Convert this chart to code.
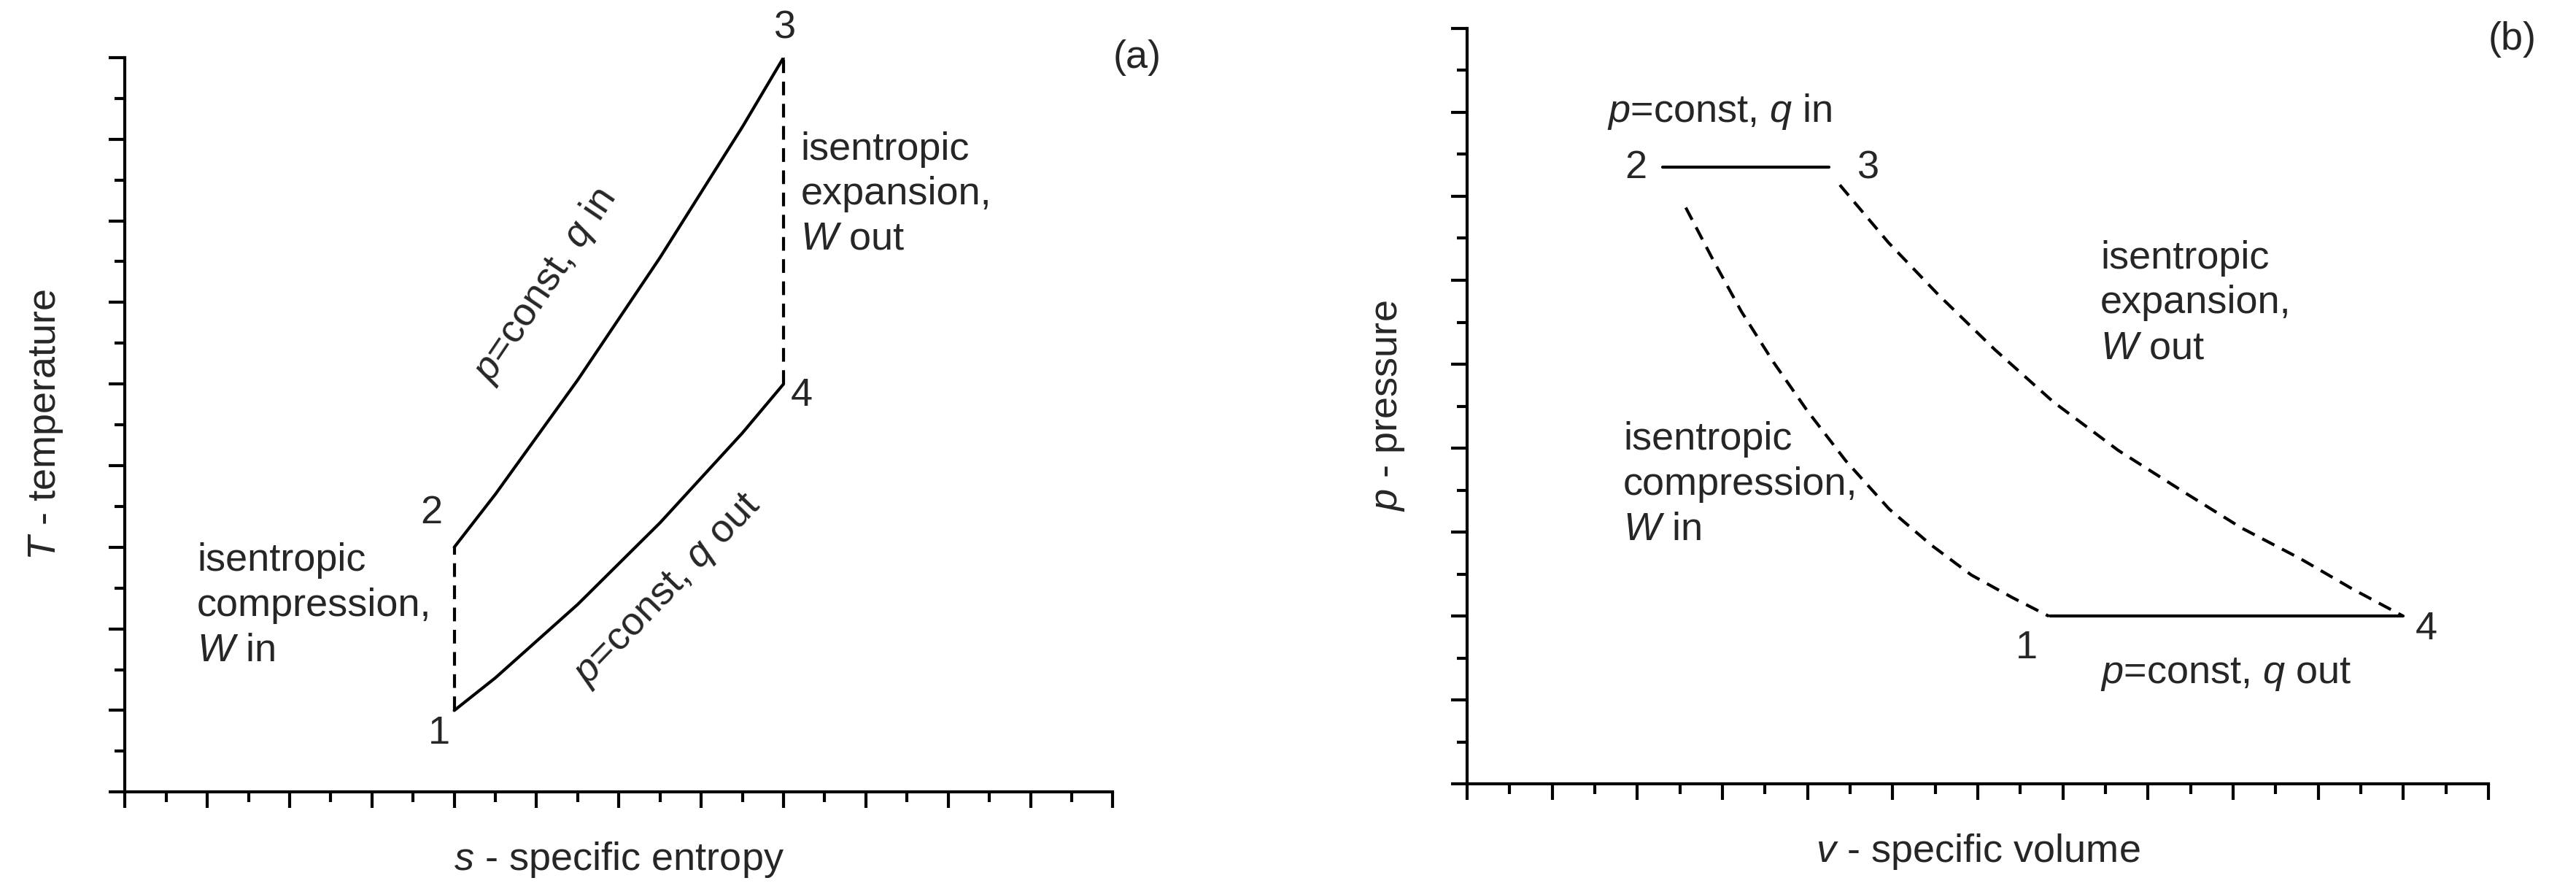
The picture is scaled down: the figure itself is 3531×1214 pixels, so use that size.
import numpy as np, pandas as pd, matplotlib
matplotlib.use("Agg")
import matplotlib.pyplot as plt, seaborn as sns

sns.set_theme(style="white")
plt.rcParams['font.family'] = ['Liberation Sans', 'DejaVu Sans']
plt.rcParams['mathtext.fontset'] = 'custom'
plt.rcParams['mathtext.rm'] = 'Liberation Sans'
plt.rcParams['mathtext.it'] = 'Liberation Sans:italic'

# Panel (a): T-s diagram
ts_heat_in_s = [8, 9, 10, 11, 12, 13, 14, 15, 16]
ts_heat_in_T = [6, 7.3, 8.7, 10.1, 11.6, 13.1, 14.7, 16.3, 18]
ts_heat_out_s = [8, 9, 10, 11, 12, 13, 14, 15, 16]
ts_heat_out_T = [2, 2.8, 3.7, 4.6, 5.6, 6.6, 7.7, 8.8, 10]
ts_comp_s = [8, 8]; ts_comp_T = [2, 6]
ts_exp_s = [16, 16]; ts_exp_T = [10, 18]

# Panel (b): p-v diagram
pv_heat_in_v = [4.6, 8.5]; pv_heat_in_p = [14.7, 14.7]
pv_heat_out_v = [13.7, 22.0]; pv_heat_out_p = [4.0, 4.0]
pv_comp_v = [5.14, 5.8, 6.45, 7.2, 7.99, 8.9, 9.92, 10.9, 11.85, 12.8, 13.67]
pv_comp_p = [13.73, 12.45, 11.25, 10.05, 8.90, 7.7, 6.55, 5.7, 4.98, 4.45, 4.0]
pv_exp_v = [8.76, 9.9, 11.08, 12.4, 13.78, 15.3, 16.87, 18.2, 19.58, 20.8, 22.0]
pv_exp_p = [14.27, 12.9, 11.65, 10.35, 9.10, 7.95, 6.94, 6.1, 5.37, 4.65, 4.0]

fig = plt.figure(figsize=(35.31, 12.14), dpi=100)
axa = fig.add_axes([0.0485, 0.106, 0.3835, 0.829])
axb = fig.add_axes([0.5695, 0.115, 0.3965, 0.853])
LW = 3.0
FS = 39

def line(ax, x, y, dashed=False):
    sns.lineplot(x=x, y=y, ax=ax, color='black', lw=LW, sort=False, estimator=None,
                 linestyle=(0, (4.5, 2.8)) if dashed else '-')

line(axa, ts_heat_in_s, ts_heat_in_T)
line(axa, ts_heat_out_s, ts_heat_out_T)
line(axa, ts_comp_s, ts_comp_T, True)
line(axa, ts_exp_s, ts_exp_T, True)
line(axb, pv_heat_in_v, pv_heat_in_p)
line(axb, pv_heat_out_v, pv_heat_out_p)
line(axb, pv_comp_v, pv_comp_p, True)
line(axb, pv_exp_v, pv_exp_p, True)

for ax in (axa, axb):
    ax.set_xlim(0, 24); ax.set_ylim(0, 18)
    ax.spines['top'].set_visible(False); ax.spines['right'].set_visible(False)
    for s in ('left', 'bottom'):
        ax.spines[s].set_linewidth(LW); ax.spines[s].set_color('black')
    ax.set_xticks(np.arange(0, 25, 2)); ax.set_xticks(np.arange(1, 24, 2), minor=True)
    ax.set_yticks(np.arange(0, 19, 2)); ax.set_yticks(np.arange(1, 18, 2), minor=True)
    ax.set_xticklabels([]); ax.set_yticklabels([])
    ax.tick_params(which='major', length=16, width=LW, color='black', direction='out', bottom=True, left=True)
    ax.tick_params(which='minor', length=10, width=LW, color='black', direction='out', bottom=True, left=True)

axa.set_xlabel('$s$ - specific entropy', fontsize=FS, labelpad=28)
axa.set_ylabel('$T$ - temperature', fontsize=FS, labelpad=40)
axb.set_xlabel('$v$ - specific volume', fontsize=FS, labelpad=28)
axb.set_ylabel('$p$ - pressure', fontsize=FS, labelpad=40)

def ta(ax, x, y, s, **kw):
    ax.text(x, y, s, transform=ax.transAxes, fontsize=FS, linespacing=1.3, **kw)

# panel a texts (axes fraction)
ta(axa, 1.0, 1.0, '(a)', ha='left', va='center')
ta(axa, 0.318, 0.08, '1', ha='center', va='center')
ta(axa, 0.31, 0.38, '2', ha='center', va='center')
ta(axa, 0.668, 1.04, '3', ha='center', va='center')
ta(axa, 0.685, 0.54, '4', ha='center', va='center')
ta(axa, 0.073, 0.34, 'isentropic\ncompression,\n$W$ in', ha='left', va='top')
ta(axa, 0.684, 0.90, 'isentropic\nexpansion,\n$W$ out', ha='left', va='top')
ta(axa, 0.425, 0.69, '$p$=const, $q$ in', ha='center', va='center', rotation=56)
ta(axa, 0.55, 0.275, '$p$=const, $q$ out', ha='center', va='center', rotation=46)

# panel b texts
ta(axb, 1.0, 0.985, '(b)', ha='left', va='center')
ta(axb, 0.165, 0.815, '2', ha='center', va='center')
ta(axb, 0.393, 0.815, '3', ha='center', va='center')
ta(axb, 0.548, 0.18, '1', ha='center', va='center')
ta(axb, 0.939, 0.205, '4', ha='center', va='center')
ta(axb, 0.137, 0.89, '$p$=const, $q$ in', ha='left', va='center')
ta(axb, 0.62, 0.72, 'isentropic\nexpansion,\n$W$ out', ha='left', va='top')
ta(axb, 0.153, 0.48, 'isentropic\ncompression,\n$W$ in', ha='left', va='top')
ta(axb, 0.62, 0.145, '$p$=const, $q$ out', ha='left', va='center')

fig.savefig('out.png', dpi=100)
